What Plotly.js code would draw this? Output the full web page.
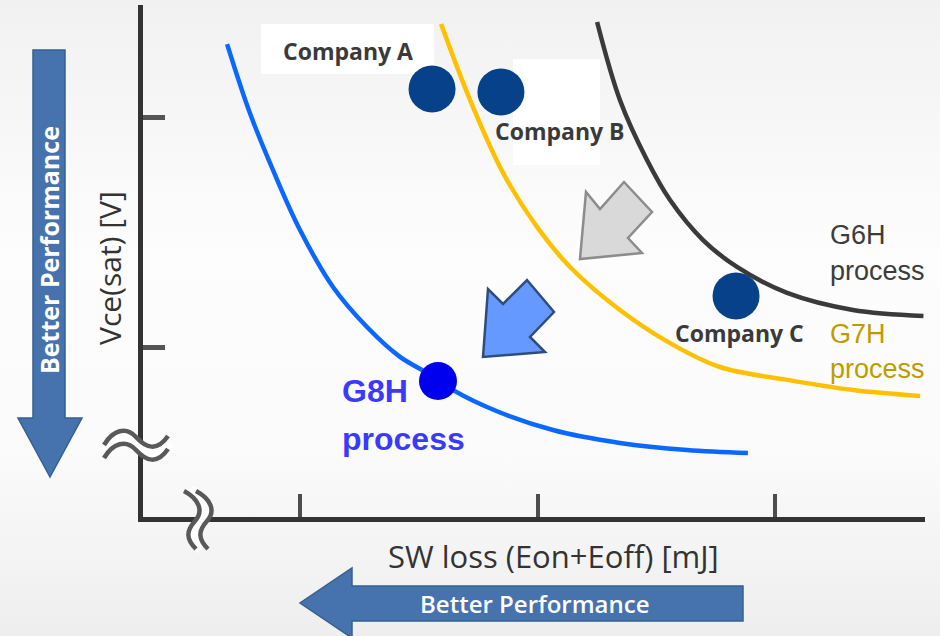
<!DOCTYPE html>
<html><head><meta charset="utf-8">
<script src="https://cdn.plot.ly/plotly-3.0.1.min.js"></script>
<style>html,body{margin:0;padding:0;background:#f7f7f7;overflow:hidden}</style>
</head><body><div id="chart" style="width:940px;height:636px"></div>
<script>
// ---- data (arbitrary units) ----
const xTickVals = [1, 2, 3];
const yTickVals = [1, 2];

const g8hX = [0.693, 0.789, 0.886, 1.000, 1.139, 1.282, 1.421, 1.535, 1.581, 1.787, 2.065, 2.347, 2.629, 2.886];
const g8hY = [2.317, 2.017, 1.770, 1.509, 1.261, 1.087, 0.957, 0.887, 0.852, 0.739, 0.639, 0.583, 0.552, 0.539];

const g7hX = [1.594, 1.716, 1.855, 1.998, 2.137, 2.347, 2.558, 2.768, 3.051, 3.328, 3.611];
const g7hY = [2.404, 2.074, 1.757, 1.522, 1.348, 1.161, 1.017, 0.913, 0.857, 0.813, 0.787];

const g6hX = [2.251, 2.347, 2.461, 2.558, 2.697, 2.840, 3.051, 3.328, 3.625];
const g6hY = [2.413, 2.074, 1.813, 1.639, 1.465, 1.348, 1.235, 1.161, 1.135];

const companyNames = ['Company A', 'Company B', 'Company C'];
const companyX = [1.556, 1.846, 2.836];
const companyY = [2.122, 2.109, 1.222];

const g8hPointX = [1.581];
const g8hPointY = [0.852];

const xTitle = 'SW loss (Eon+Eoff) [mJ]';
const yTitle = 'Vce(sat) [V]';
const perfLabel = 'Better Performance';
const processNames = ['G6H', 'G7H', 'G8H'];
const processWord = 'process';

// ---- layout geometry ----
const W = 940, H = 636, L = 143, R = 15, T = 5, B = 119;
const PW = W - L - R, PH = H - T - B, BOT = H - B;
const px = x => (x - L) / PW;
const py = y => (BOT - y) / PH;
function path(cmds) {
  return cmds.map(c => typeof c === 'string' ? c : (px(c[0]).toFixed(5) + ',' + py(c[1]).toFixed(5))).join(' ');
}
function poly(pts) { return 'M ' + pts.map(p => path([p])).join(' L ') + ' Z'; }

const shapes = [];
function addShape(s) { shapes.push(Object.assign({xref: 'paper', yref: 'paper'}, s)); }

// white label boxes
addShape({type: 'rect', x0: px(261), x1: px(434), y0: py(24), y1: py(74), fillcolor: '#ffffff', line: {width: 0}, layer: 'below'});
addShape({type: 'rect', x0: px(513), x1: px(600), y0: py(59), y1: py(165), fillcolor: '#ffffff', line: {width: 0}, layer: 'below'});

// left vertical arrow
addShape({type: 'path', layer: 'below', fillcolor: '#4673ad', line: {color: '#35608f', width: 1.5},
  path: poly([[33, 50], [65, 50], [65, 418], [82, 418], [50, 477], [18, 418], [33, 418]])});
// bottom horizontal arrow
addShape({type: 'path', layer: 'below', fillcolor: '#4673ad', line: {color: '#35608f', width: 1.5},
  path: poly([[743, 586], [743, 621], [352, 621], [352, 638], [300, 603], [352, 568], [352, 586]])});
// grey block arrow
addShape({type: 'path', layer: 'below', fillcolor: '#d9d9d9', line: {color: '#8c8c8c', width: 2.5},
  path: poly([[580, 259], [586, 192], [600, 209], [624, 182], [652, 212], [628, 238], [642, 253]])});
// blue block arrow
addShape({type: 'path', layer: 'below', fillcolor: '#6699ff', line: {color: '#2e4d7a', width: 2.5},
  path: poly([[483, 357], [488, 289], [503, 304], [527, 280], [554, 312], [530, 337], [545, 352]])});

// axis break marks
function yBreak(dy) {
  return path(['M', [104, 445 + dy], 'C', [113, 430 + dy], [126, 426 + dy], [136, 437 + dy], 'S', [157, 452 + dy], [168, 436 + dy]]);
}
function xBreak(dx) {
  return path(['M', [184 + dx, 491], 'C', [199 + dx, 499], [204 + dx, 511], [195 + dx, 521], 'S', [186 + dx, 539], [196 + dx, 549]]);
}
addShape({type: 'path', layer: 'above', line: {color: '#ffffff', width: 13}, path: yBreak(6.5)});
addShape({type: 'path', layer: 'above', line: {color: '#595959', width: 4.5}, path: yBreak(0)});
addShape({type: 'path', layer: 'above', line: {color: '#595959', width: 4.5}, path: yBreak(13)});
addShape({type: 'path', layer: 'above', line: {color: '#ffffff', width: 12}, path: xBreak(6)});
addShape({type: 'path', layer: 'above', line: {color: '#595959', width: 4.5}, path: xBreak(0)});
addShape({type: 'path', layer: 'above', line: {color: '#595959', width: 4.5}, path: xBreak(12)});

// annotations
const annotations = [];
function ann(text, x, y, o) {
  annotations.push(Object.assign({xref: 'paper', yref: 'paper', x: px(x), y: py(y), text: text, showarrow: false,
    xanchor: 'center', yanchor: 'middle'}, o));
}
const compFont = {family: 'Open Sans, sans-serif', size: 23, color: '#3a3a3a', weight: 700};
ann(companyNames[0], 348, 51, {font: compFont});
ann(companyNames[1], 560, 131, {font: compFont});
ann(companyNames[2], 739, 333, {font: compFont});

const f6 = {family: 'Liberation Sans, Arial, sans-serif', size: 27, color: '#3c3c3c'};
const f7 = {family: 'Liberation Sans, Arial, sans-serif', size: 27, color: '#bf9b00'};
const f8 = {family: 'Liberation Sans, Arial, sans-serif', size: 32, color: '#3a3aff', weight: 700};
ann(processNames[0], 828, 235, {xanchor: 'left', font: f6});
ann(processWord, 828, 271, {xanchor: 'left', font: f6});
ann(processNames[1], 828, 334, {xanchor: 'left', font: f7});
ann(processWord, 828, 369, {xanchor: 'left', font: f7});
ann(processNames[2], 340, 391, {xanchor: 'left', font: f8});
ann(processWord, 340, 439, {xanchor: 'left', font: f8});

ann(xTitle, 553, 556, {font: {family: 'Open Sans, sans-serif', size: 31, color: '#333333'}});
ann(yTitle, 109, 268, {textangle: -90, font: {family: 'Open Sans, sans-serif', size: 30, color: '#333333'}});
ann(perfLabel, 535, 603, {font: {family: 'Open Sans, sans-serif', size: 24, color: '#ffffff', weight: 600}});
ann(perfLabel, 49, 250, {textangle: -90, font: {family: 'Open Sans, sans-serif', size: 25, color: '#ffffff', weight: 700}});

// background gradient image
const bgSvg = '<svg xmlns="http://www.w3.org/2000/svg" width="940" height="636"><defs><linearGradient id="g" x1="0" y1="0" x2="0" y2="1">' +
  '<stop offset="0" stop-color="#f1f1f1"/><stop offset="0.4" stop-color="#fdfdfd"/><stop offset="0.7" stop-color="#fbfbfb"/><stop offset="1" stop-color="#eeeeee"/>' +
  '</linearGradient></defs><rect width="940" height="636" fill="url(#g)"/></svg>';
const images = [{source: 'data:image/svg+xml;base64,' + btoa(bgSvg), xref: 'paper', yref: 'paper',
  x: px(0), y: py(0), sizex: W / PW, sizey: H / PH, xanchor: 'left', yanchor: 'top', sizing: 'stretch', layer: 'below'}];

// ---- traces ----
const traces = [
  {x: g8hX, y: g8hY, mode: 'lines', line: {color: '#0a68ff', width: 4.5, shape: 'spline', smoothing: 1}, cliponaxis: false, name: 'G8H'},
  {x: g7hX, y: g7hY, mode: 'lines', line: {color: '#ffc000', width: 4.5, shape: 'spline', smoothing: 1}, cliponaxis: false, name: 'G7H'},
  {x: g6hX, y: g6hY, mode: 'lines', line: {color: '#3a3a3a', width: 4.5, shape: 'spline', smoothing: 1}, cliponaxis: false, name: 'G6H'},
  {x: companyX, y: companyY, text: companyNames, mode: 'markers', marker: {color: '#07418a', size: 47, line: {width: 0}}, cliponaxis: false, name: 'Companies'},
  {x: g8hPointX, y: g8hPointY, mode: 'markers', marker: {color: '#0000ee', size: 38, line: {width: 0}}, cliponaxis: false, name: 'G8H point'}
];

const layout = {
  width: W, height: H,
  margin: {l: L, r: R, t: T, b: B, pad: 0},
  paper_bgcolor: '#f7f7f7', plot_bgcolor: 'rgba(0,0,0,0)',
  showlegend: false,
  xaxis: {range: [1 - (300 - L) / 237.5, 1 + (L + PW - 300) / 237.5], showgrid: false, zeroline: false,
    showline: true, linecolor: '#333333', linewidth: 5, ticks: 'inside', ticklen: 23, tickwidth: 4, tickcolor: '#4d4d4d',
    tickvals: xTickVals, showticklabels: false, fixedrange: true},
  yaxis: {range: [1 - (BOT - 347) / 230, 1 + (347 - T) / 230], showgrid: false, zeroline: false,
    showline: true, linecolor: '#333333', linewidth: 5, ticks: 'inside', ticklen: 22, tickwidth: 5, tickcolor: '#555555',
    tickvals: yTickVals, showticklabels: false, fixedrange: true},
  shapes: shapes, annotations: annotations, images: images
};

Plotly.newPlot('chart', traces, layout, {displayModeBar: false, staticPlot: true});
</script></body></html>
